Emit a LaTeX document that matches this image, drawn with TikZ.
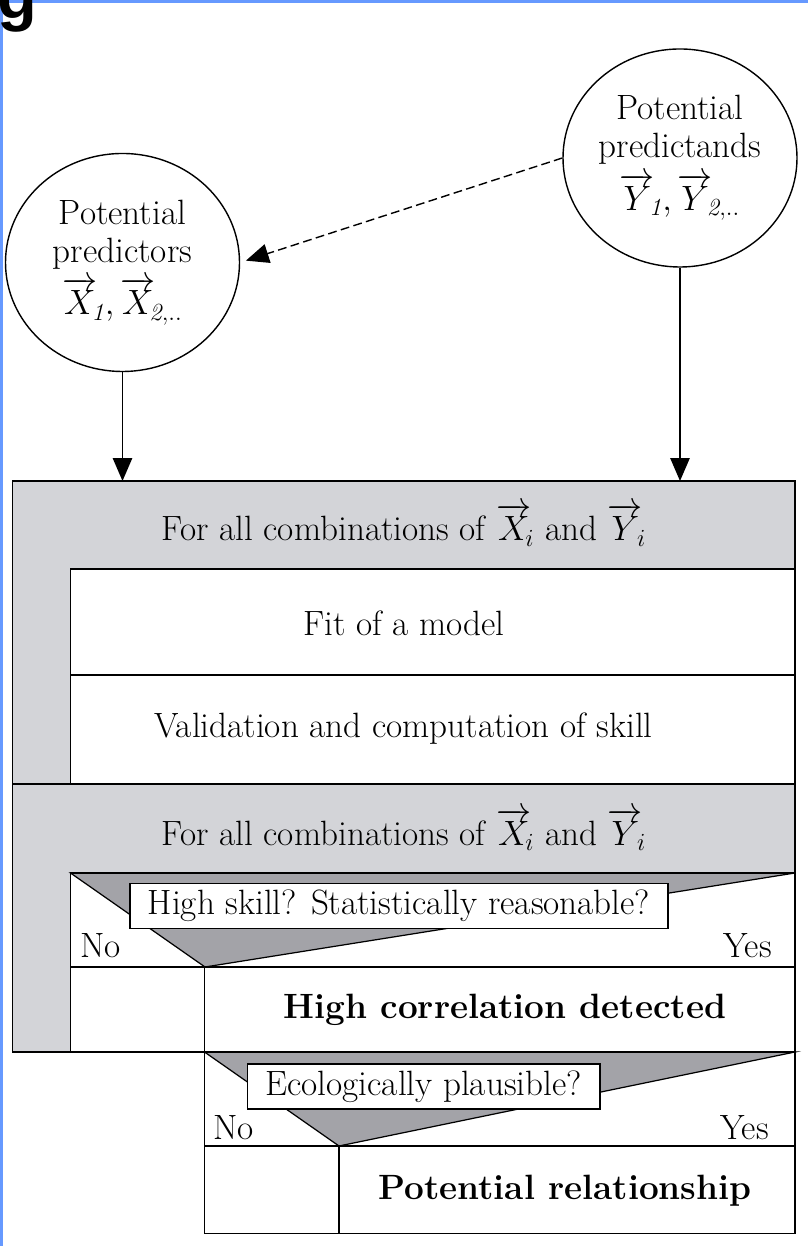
\documentclass[tikz,border=0pt]{standalone}
\usepackage{fix-cm}
\usepackage{amsmath}
\usepackage{amssymb}
\usepackage{fontspec}
\usepackage{xcolor}
\usetikzlibrary{shapes.geometric,arrows.meta}
\newfontfamily\tagfont{Liberation Sans}
\definecolor{framegray}{RGB}{211,212,216}
\definecolor{splitgray}{RGB}{163,163,168}
\definecolor{pageblue}{RGB}{102,153,255}
\newcommand{\varvec}[1]{\overrightarrow{#1}\!}

\begin{document}
\begin{tikzpicture}[
    txt/.style={font=\fontsize{20}{23}\selectfont},
    pool/.style={ellipse,draw,line width=0.8pt,minimum width=4.68cm,minimum height=4.36cm,inner sep=0pt,align=center,font=\fontsize{20}{21.5}\selectfont},
    question/.style={draw,fill=white,line width=0.9pt,minimum height=0.9cm,inner xsep=0.36cm,inner ysep=0pt,txt},
    answer/.style={txt,inner sep=0pt},
    frame/.style={line width=1pt},
    split/.style={fill=splitgray,draw=black,line width=0.7pt},
    flow/.style={-{Triangle[length=13pt,width=11pt]},line width=0.8pt}
    ]
    \useasboundingbox (0,0) rectangle (16.16,24.92);
    \clip (0,0) rectangle (16.16,24.92);
    \fill [pageblue] (0,24.85) rectangle (16.16,24.92);
    \fill [pageblue] (0,0) rectangle (0.05,24.92);
    \node[anchor=base west,inner sep=0pt,font=\tagfont\bfseries\fontsize{37}{37}\selectfont] (tag) at (-0.06,24.54) {g};

    \node[pool] (predictors) at (2.45,19.67) {Potential\\predictors\\[4pt]$\varvec{X}_{\mathit{1}}, \varvec{X}_{\mathit{2},..}$};
    \node[pool] (predictands) at (13.6,21.76) {Potential\\predictands\\[4pt]$\varvec{Y}_{\mathit{1}}, \varvec{Y}_{\mathit{2},..}$};
    \coordinate (predin) at (2.45,15.30);
    \coordinate (predandin) at (13.6,15.30);

    % shaded loop bodies
    \fill [framegray] (0.25,3.88) rectangle (15.9,15.30);
    \fill [white] (1.41,9.24) rectangle (15.9,13.54);
    \fill [white] (1.41,3.88) rectangle (15.9,7.46);
    \fill [white] (4.09,0.25) rectangle (15.9,3.88);
    \filldraw [split] (1.41,7.46)--(15.9,7.46)--(4.1,5.58)--cycle;
    \filldraw [split] (4.09,3.88)--(15.9,3.88)--(6.78,2.00)--cycle;

    % outlines
    \draw [frame] (0.25,3.88) rectangle (15.9,15.30);
    \draw [frame] (1.41,9.24)--(1.41,13.54)--(15.9,13.54);
    \draw [frame] (1.41,11.42)--(15.9,11.42);
    \draw [frame] (0.25,9.24)--(15.9,9.24);
    \draw [frame] (1.41,3.88)--(1.41,7.46)--(15.9,7.46);
    \draw [frame] (1.41,5.58)--(15.9,5.58);
    \draw [frame] (4.09,5.58)--(4.09,0.25)--(15.9,0.25)--(15.9,3.88);
    \draw [frame] (4.09,2.00)--(15.9,2.00);
    \draw [frame] (6.78,2.00)--(6.78,0.25);

    \node[txt] (outerhead) at (8.08,14.42) {For all combinations of $\varvec{X}_i$ and $\varvec{Y}_i$};
    \node[txt] (fit) at (8.08,12.46) {Fit of a model};
    \node[txt] (valid) at (8.07,10.35) {Validation and computation of skill};
    \node[txt] (innerhead) at (8.08,8.33) {For all combinations of $\varvec{X}_i$ and $\varvec{Y}_i$};
    \node[question] (skill) at (7.98,6.80) {High skill? Statistically reasonable?};
    \node[answer,anchor=west] (skillno) at (1.6,6.0) {No};
    \node[answer,anchor=east] (skillyes) at (15.44,6.0) {Yes};
    \node[txt] (corr) at (10.1,4.72) {\bfseries High correlation detected};
    \node[question] (plausible) at (8.47,3.19) {Ecologically plausible?};
    \node[answer,anchor=west] (plausno) at (4.26,2.36) {No};
    \node[answer,anchor=east] (plausyes) at (15.38,2.36) {Yes};
    \node[txt] (relation) at (11.3,1.1) {\bfseries Potential relationship};

    \draw[flow] (predictors.south) -- (predin);
    \draw[flow] (predictands.south) -- (predandin);
    \draw[flow,dash pattern=on 5pt off 2.5pt,shorten >=0.12cm] (predictands.west) -- (predictors.east);
\end{tikzpicture}
\end{document}
